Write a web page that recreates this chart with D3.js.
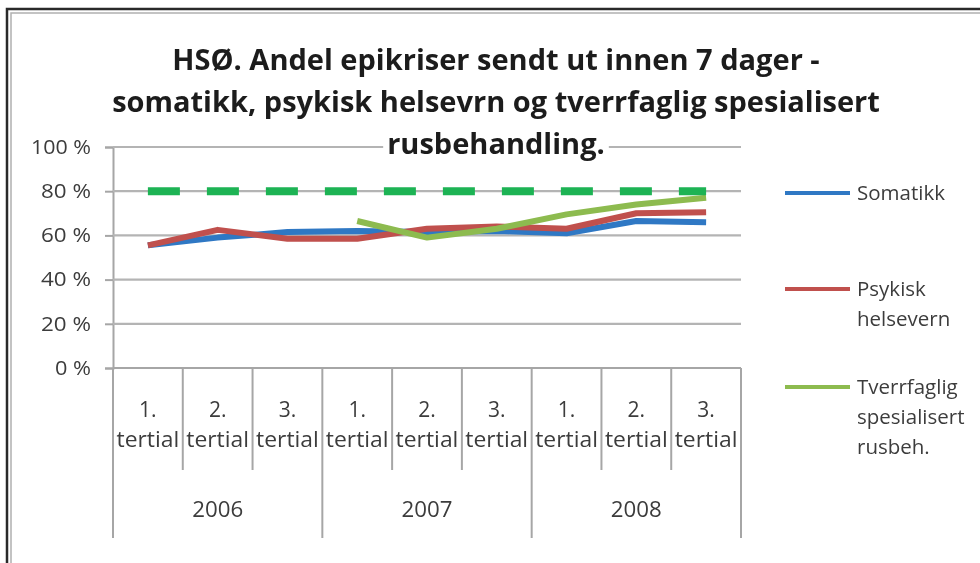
<!DOCTYPE html>
<html>
<head>
<meta charset="utf-8">
<script src="https://cdn.jsdelivr.net/npm/d3@7"></script>
<style>
  body { margin: 0; background: #fff; }
  svg { display: block; font-family: "Open Sans", "Noto Sans", sans-serif; filter: blur(0.35px); }
</style>
</head>
<body>
<svg id="chart" width="980" height="563"></svg>
<script>
// data
const years = ["2006", "2007", "2008"];
const tertials = ["1.", "2.", "3."];
const somatikk = [55.5, 59, 61.5, 62, 61.5, 62, 61, 66.5, 66];
const psykisk = [55.5, 62.5, 58.5, 58.5, 63, 64, 63, 70, 70.5];
const tverrfaglig = [null, null, null, 66.5, 59, 63, 69.5, 74, 77];
const target = [80, 80, 80, 80, 80, 80, 80, 80, 80];
const yTicks = [0, 20, 40, 60, 80, 100];
const titleLines = [
  "HSØ. Andel epikriser sendt ut innen 7 dager -",
  "somatikk, psykisk helsevrn og tverrfaglig spesialisert",
  "rusbehandling."
];

const series = [
  { name: ["Somatikk"], values: somatikk, color: "#2f78c4" },
  { name: ["Psykisk", "helsevern"], values: psykisk, color: "#c0504d" },
  { name: ["Tverrfaglig", "spesialisert", "rusbeh."], values: tverrfaglig, color: "#8dbb4f" }
];

const svg = d3.select("#chart");
const plotL = 113, plotR = 741, plotT = 147, plotB = 368;
const txt = "#3c3c3c";

// categories: year x tertial
const cats = [];
years.forEach(yr => tertials.forEach(t => cats.push({ year: yr, t: t })));

const x = d3.scaleBand().domain(d3.range(cats.length)).range([plotL, plotR]);
const y = d3.scaleLinear().domain([0, 100]).range([plotB, plotT]);

// frame
svg.append("rect").attr("x", 7).attr("y", 9).attr("width", 1000).attr("height", 600)
  .attr("fill", "none").attr("stroke", "#2a2a2a").attr("stroke-width", 2.5);
svg.append("rect").attr("x", 11).attr("y", 13).attr("width", 1000).attr("height", 600)
  .attr("fill", "none").attr("stroke", "#b0b0b0").attr("stroke-width", 1.5);

// gridlines + y axis
const yAxis = d3.axisLeft(y).tickValues(yTicks).tickFormat(d => d + " %").tickSizeOuter(0).tickSize(8).tickPadding(14);
const gy = svg.append("g").attr("transform", `translate(${plotL},0)`).call(yAxis);
gy.select(".domain").attr("stroke", "#a6a6a6").attr("stroke-width", 2);
gy.selectAll(".tick line").attr("stroke", "#a6a6a6").attr("stroke-width", 2);
gy.selectAll(".tick text").attr("fill", txt).attr("font-size", 19.5).attr("font-family", "Open Sans")
  .attr("textLength", d => d === 100 ? 60 : d === 0 ? 36 : 50).attr("lengthAdjust", "spacingAndGlyphs");

svg.append("g").selectAll("line").data(yTicks.filter(d => d > 0)).join("line")
  .attr("x1", plotL).attr("x2", plotR)
  .attr("y1", d => y(d)).attr("y2", d => y(d))
  .attr("stroke", "#b4b4b4").attr("stroke-width", 2.2);

// category axis
const ax = svg.append("g").attr("stroke", "#a6a6a6").attr("stroke-width", 2);
ax.append("line").attr("x1", plotL).attr("x2", plotR).attr("y1", plotB).attr("y2", plotB);
const edges = d3.range(cats.length + 1).map(i => i < cats.length ? x(i) : plotR);
ax.selectAll(".sep").data(edges).join("line")
  .attr("x1", d => d).attr("x2", d => d)
  .attr("y1", plotB)
  .attr("y2", (d, i) => i % 3 === 0 ? 538 : 470);

const catText = svg.append("g").attr("fill", txt).attr("font-size", 21).attr("text-anchor", "middle");
catText.selectAll(".t1").data(cats).join("text")
  .attr("x", (d, i) => x(i) + x.bandwidth() / 2).attr("y", 417).text(d => d.t);
catText.selectAll(".t2").data(cats).join("text")
  .attr("x", (d, i) => x(i) + x.bandwidth() / 2).attr("y", 447)
  .attr("textLength", x.bandwidth() - 7).attr("lengthAdjust", "spacingAndGlyphs")
  .text("tertial");
catText.selectAll(".yr").data(years).join("text")
  .attr("x", (d, i) => x(i * 3) + x.bandwidth() * 1.5).attr("y", 517)
  .attr("textLength", 51).attr("lengthAdjust", "spacingAndGlyphs").text(d => d);

// lines
const line = d3.line()
  .defined(d => d != null)
  .x((d, i) => x(i) + x.bandwidth() / 2)
  .y(d => y(d));

series.forEach(s => {
  svg.append("path").datum(s.values)
    .attr("d", line).attr("fill", "none")
    .attr("stroke", s.color).attr("stroke-width", 6)
    .attr("stroke-linejoin", "round");
});

svg.append("path").datum(target)
  .attr("d", line).attr("fill", "none")
  .attr("stroke", "#1db354").attr("stroke-width", 8)
  .attr("stroke-dasharray", "32,27");

// title
const title = svg.append("g").attr("font-weight", "bold").attr("fill", "#1c1c1c").attr("text-anchor", "middle");
const tl = title.selectAll("text").data(titleLines).join("text")
  .attr("x", 496).attr("y", (d, i) => 70 + i * 42)
  .attr("font-size", 26).text(d => d);
// fit the widest line to ~768px
const w2 = tl.nodes()[1].getComputedTextLength();
const fs = 26 * 768 / w2;
tl.attr("font-size", fs);
const bb = tl.nodes()[2].getBBox();
title.insert("rect", "text").attr("x", bb.x - 4).attr("y", bb.y + 2).attr("width", bb.width + 8).attr("height", bb.height - 4)
  .attr("fill", "#fff");

// legend
const legY = [193, 289, 387];
const leg = svg.append("g");
series.forEach((s, i) => {
  leg.append("line").attr("x1", 785).attr("x2", 850).attr("y1", legY[i]).attr("y2", legY[i])
    .attr("stroke", s.color).attr("stroke-width", 4);
  s.name.forEach((n, j) => {
    leg.append("text").attr("x", 857).attr("y", legY[i] + 7 + j * 30)
      .attr("font-size", 20.5).attr("fill", txt).text(n);
  });
});
</script>
</body>
</html>
